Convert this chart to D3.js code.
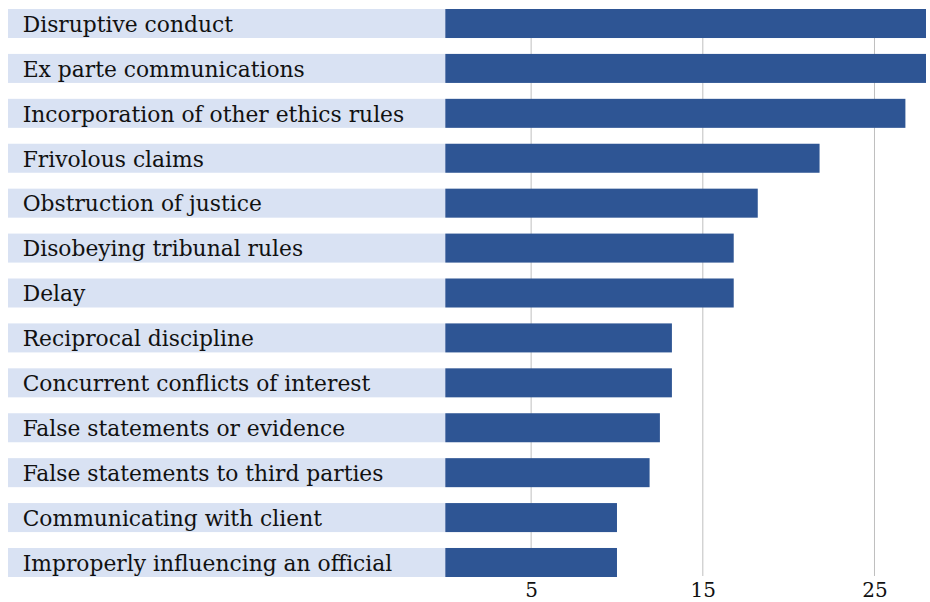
<!DOCTYPE html>
<html>
<head>
<meta charset="utf-8">
<script src="https://cdn.jsdelivr.net/npm/d3@7"></script>
<style>
  html, body { margin: 0; padding: 0; background: #fff; }
  svg { display: block; }
  text { font-family: "DejaVu Serif", serif; fill: #111; }
</style>
</head>
<body>
<svg id="chart" width="930" height="602"></svg>
<script>
const categories = [
  "Disruptive conduct",
  "Ex parte communications",
  "Incorporation of other ethics rules",
  "Frivolous claims",
  "Obstruction of justice",
  "Disobeying tribunal rules",
  "Delay",
  "Reciprocal discipline",
  "Concurrent conflicts of interest",
  "False statements or evidence",
  "False statements to third parties",
  "Communicating with client",
  "Improperly influencing an official"
];
const values = [28, 28, 26.8, 21.8, 18.2, 16.8, 16.8, 13.2, 13.2, 12.5, 11.9, 10, 10];
const tickValues = [5, 15, 25];

(function () {
const svg = d3.select("#chart");
const labelLeft = 8, plotLeft = 445.3, plotRight = 926;
const plotTop = 9, plotBottom = 577;

const x = d3.scaleLinear().domain([0, 28]).range([plotLeft, plotRight]);
const y = d3.scaleBand().domain(categories).range([plotTop, plotBottom]).paddingInner(0.354).paddingOuter(0);

const data = categories.map((c, i) => ({ c, v: values[i] }));

// gridlines
svg.append("g").selectAll("line").data(tickValues).join("line")
  .attr("x1", d => x(d)).attr("x2", d => x(d))
  .attr("y1", plotTop).attr("y2", plotBottom - 1)
  .attr("stroke", "#bfbfbf").attr("stroke-width", 1);

// label backgrounds
svg.append("g").selectAll("rect").data(data).join("rect")
  .attr("x", labelLeft).attr("y", d => y(d.c))
  .attr("width", plotLeft - labelLeft).attr("height", y.bandwidth())
  .attr("fill", "#d9e2f3");

// bars
svg.append("g").selectAll("rect").data(data).join("rect")
  .attr("x", x(0)).attr("y", d => y(d.c))
  .attr("width", d => Math.min(x(d.v), plotRight) - x(0)).attr("height", y.bandwidth())
  .attr("fill", "#2e5594");

// labels
svg.append("g").selectAll("text").data(data).join("text")
  .attr("x", 22.7).attr("y", d => y(d.c) + y.bandwidth() / 2 + 8.3)
  .attr("font-size", 21.8)
  .text(d => d.c);

// x axis tick labels
const axis = d3.axisBottom(x).tickValues(tickValues).tickSize(0).tickPadding(0).tickFormat(d3.format("d"));
const gAxis = svg.append("g").attr("transform", `translate(0, ${plotBottom})`).call(axis);
gAxis.select(".domain").remove();
gAxis.selectAll("text")
  .attr("font-family", "DejaVu Serif, serif")
  .attr("font-size", 20).attr("fill", "#111")
  .attr("dy", null).attr("y", 20);
})();
</script>
</body>
</html>
